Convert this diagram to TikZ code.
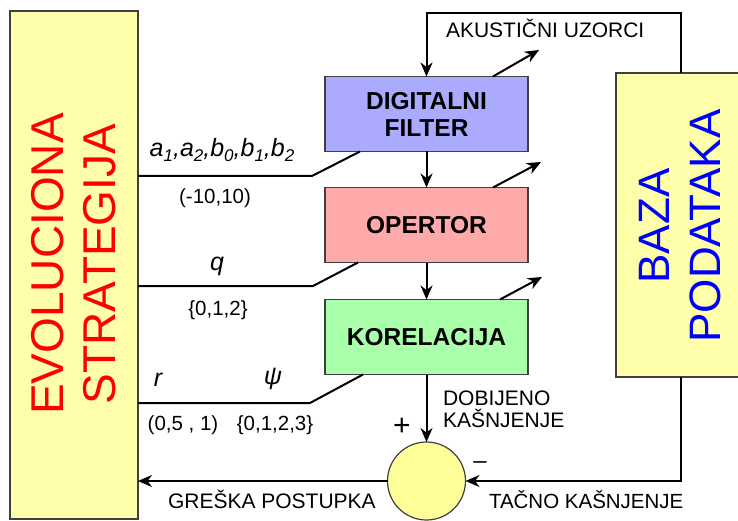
\documentclass[tikz,border=0pt]{standalone}
\usepackage{fontspec}
\setmainfont{Liberation Sans}
\usetikzlibrary{arrows.meta}
\definecolor{padyellow}{HTML}{FFFFAA}
\definecolor{dfblue}{HTML}{AAAAFF}
\definecolor{oppink}{HTML}{FFAAAA}
\definecolor{korgreen}{HTML}{AAFFAA}
\definecolor{sumyellow}{HTML}{FFFF99}
\newcommand{\setfs}[2]{\fontsize{#1}{#2}\selectfont}
\newcommand{\lowi}[1]{\raisebox{-5pt}{\fontsize{17}{17}\selectfont #1}}
\begin{document}
\begin{tikzpicture}[x=1pt,y=-1pt,
  box/.style={draw=black!75,line width=1.2pt,inner sep=0pt,outer sep=0pt},
  procbox/.style={box,minimum width=203pt,minimum height=75pt,font=\setfs{24.5}{27}\bfseries,align=center},
  conn/.style={line width=2pt},
  arr/.style={conn,-{Stealth[length=14pt,width=12pt,inset=4.5pt]}},
  lbl/.style={font=\setfs{20.5}{22},inner sep=0pt,outer sep=0pt},
  parlbl/.style={font=\setfs{25}{25}\itshape,inner sep=0pt,outer sep=0pt},
  sign/.style={inner sep=0pt,outer sep=0pt},
]
\useasboundingbox (0,0) rectangle (738,521);
\begin{scope}
\clip (0,0) rectangle (738,521);
\fill[white] (0,0) rectangle (738,521);
% big side boxes
\node[box,fill=padyellow,minimum width=128pt,minimum height=508pt] (evo) at (74,265) {};
\node[rotate=90,text=red,font=\setfs{46}{52},align=center,inner sep=0pt] (evotxt) at (74,264) {EVOLUCIONA\\STRATEGIJA};
\node[box,fill=padyellow,minimum width=130pt,minimum height=304pt] (baza) at (681,225) {};
\node[rotate=90,text=blue,font=\setfs{44}{51},align=center,inner sep=0pt] (bazatxt) at (680,226) {BAZA\\PODATAKA};
% process boxes
\node[procbox,fill=dfblue] (df) at (426.5,114) {DIGITALNI\\FILTER};
\node[procbox,fill=oppink] (op) at (426.5,225) {OPERTOR};
\node[procbox,fill=korgreen] (kor) at (426.5,337) {KORELACIJA};
\node[box,circle,fill=sumyellow,minimum size=78pt] (sum) at (426.5,481) {};
% coordinates
\coordinate (loopTop) at (0,13);
\coordinate (k1) at (312,176);
\coordinate (k2) at (313,286);
\coordinate (k3) at (310,403);
\coordinate (d1) at (539,50);
\coordinate (d2) at (541,162);
\coordinate (d3) at (542,277);
% connectors
\draw[arr] (baza.north) -- (baza.north |- loopTop) -- (df.north |- loopTop) -- (df.north);
\draw[arr] (df.south) -- (op.north);
\draw[arr] (op.south) -- (kor.north);
\draw[arr] (kor.south) -- (sum.north);
\draw[arr] (baza.south) |- (sum.east);
\draw[arr] (sum.west) -- (sum.west -| evo.east);
\draw[arr] ([xshift=66.5pt]df.north) -- (d1);
\draw[arr] ([xshift=66.5pt]op.north) -- (d2);
\draw[arr] ([xshift=73.5pt]kor.north) -- (d3);
\draw[conn] (evo.east |- k1) -- (k1) -- ([xshift=-66.5pt]df.south);
\draw[conn] (evo.east |- k2) -- (k2) -- ([xshift=-68.5pt]op.south);
\draw[conn] (evo.east |- k3) -- (k3) -- ([xshift=-63.5pt]kor.south);
% labels
\node[parlbl,anchor=base] (coef) at (222,157) {a\lowi{1},a\lowi{2},b\lowi{0},b\lowi{1},b\lowi{2}};
\node[parlbl,anchor=base] (qlbl) at (217,270) {q};
\node[parlbl,anchor=base] (rlbl) at (158,386) {r};
\node[parlbl,anchor=base] (psilbl) at (273,384) {ψ};
\node[lbl] (rng1) at (215,198) {(-10,10)};
\node[lbl] (rng2) at (218,310) {\{0,1,2\}};
\node[lbl] (rng3) at (183,425) {(0,5 , 1)};
\node[lbl] (rng4) at (275,425) {\{0,1,2,3\}};
\node[lbl,anchor=base west,font=\setfs{21}{21}] (aku) at (446,38) {AKUSTIČNI UZORCI};
\node[lbl,anchor=base west,font=\setfs{21}{21}] (dob1) at (443,405) {DOBIJENO};
\node[lbl,anchor=base west,font=\setfs{21}{21}] (dob2) at (443,427) {KAŠNJENJE};
\node[lbl,anchor=base west,font=\setfs{21}{21}] (gres) at (168,508) {GREŠKA POSTUPKA};
\node[lbl,anchor=base west] (tacno) at (489,508) {TAČNO KAŠNJENJE};
\node[sign,anchor=base,font=\setfs{30}{30}] (plus) at (402,435) {+};
\node[sign,anchor=base,font=\setfs{24}{24}] (minus) at (480,468) {--};
\end{scope}
\end{tikzpicture}
\end{document}
